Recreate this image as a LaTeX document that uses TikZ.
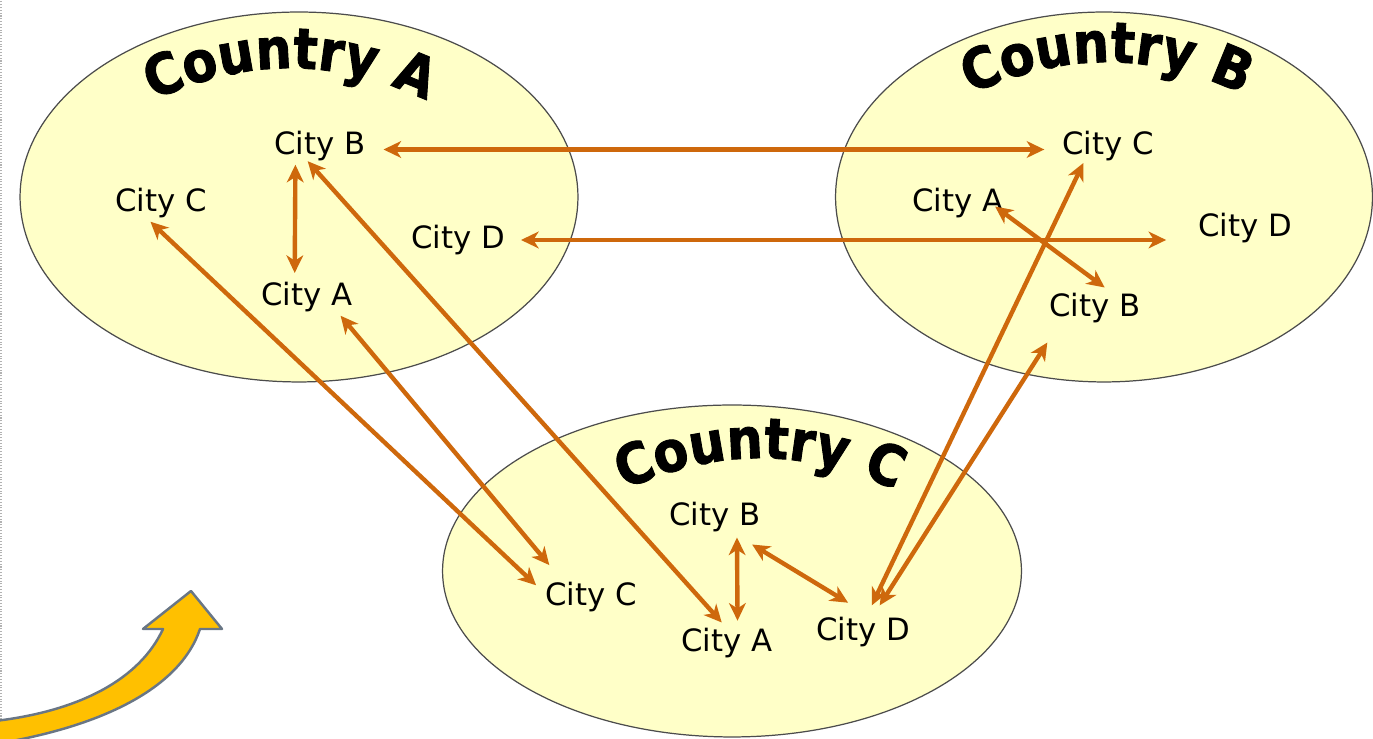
\documentclass[tikz,border=0pt]{standalone}
\usepackage{fontspec}
\setmainfont{DejaVu Sans}
\newfontfamily\countryfam[FakeBold=1.6]{DejaVu Sans Condensed Bold}
\usetikzlibrary{arrows.meta,shapes.geometric,decorations.text}

\definecolor{landfill}{RGB}{255,255,200}
\definecolor{routeorange}{RGB}{206,104,12}
\definecolor{boostgold}{RGB}{255,192,0}
\definecolor{boostedge}{RGB}{105,118,133}

\newcommand\countryfont{\countryfam\fontsize{32}{32}\selectfont}

\tikzset{
  country/.style={ellipse, draw=black!70, line width=0.7pt, fill=landfill, inner sep=0pt},
  countryname/.style={decorate, decoration={text along path, text align=center, text={|\countryfont|#1}}},
  city/.style={font=\fontsize{17.5}{20}\selectfont, inner sep=2pt},
  route/.style={draw=routeorange, line width=2.5pt, >={Stealth[length=10pt,width=9.5pt,inset=3pt]}, <->}
}

\begin{document}
\begin{tikzpicture}[x=0.02cm, y=0.02cm]
    \useasboundingbox (0,0) rectangle (1373,739);

    % page edge
    \draw[gray!60, densely dotted, line width=0.6pt] (1,0) -- (1,739);

    % draw countries
    \node[country, minimum width=11.16cm, minimum height=7.4cm] (ctyA) at (299,542) {};
    \node[country, minimum width=10.74cm, minimum height=7.4cm] (ctyB) at (1104,542) {};
    \node[country, minimum width=11.58cm, minimum height=6.64cm] (ctyC) at (732,168) {};

    % draw country names
    \path[countryname=Country A] (120,621) to[bend left=30] (460,621);
    \path[countryname=Country B] (937,627) to[bend left=30] (1277,627);
    \path[countryname=Country C] (590,231) to[bend left=30] (930,231);

    % draw cities
    \node[city] (aB) at (320,593) {City B};
    \node[city] (aC) at (161,536) {City C};
    \node[city] (aD) at (458,499) {City D};
    \node[city] (aA) at (307,442) {City A};

    \node[city] (bC) at (1108,593) {City C};
    \node[city] (bA) at (958,536) {City A};
    \node[city] (bD) at (1245,511) {City D};
    \node[city] (bB) at (1095,431) {City B};

    \node[city] (cB) at (715,222) {City B};
    \node[city] (cC) at (591,142) {City C};
    \node[city] (cA) at (727,96) {City A};
    \node[city] (cD) at (863,107) {City D};

    % draw routes
    \draw[route] ([shift={(8pt,-2pt)}]aB.east) -- ([shift={(-8pt,-2pt)}]bC.west);
    \draw[route] ([xshift=7pt]aD.east) -- ([xshift=-16pt]aD.east -| bD.west);
    \draw[route] ([xshift=-14pt]aB.south) -- ([shift={(-7pt,3pt)}]aA.north);
    \draw[route] ([xshift=-6pt]aC.south) -- ([shift={(-3pt,-4pt)}]cC.north west);
    \draw[route] ([xshift=-9pt]aA.south east) -- ([shift={(4.5pt,7.5pt)}]cC.north west);
    \draw[route] ([shift={(-7pt,2pt)}]aB.south) -- ([shift={(-3pt,1pt)}]cA.north);
    \draw[route] ([shift={(12.5pt,-1pt)}]cB.south) -- ([shift={(6pt,2pt)}]cA.north);
    \draw[route] ([shift={(-7pt,-5pt)}]cB.south east) -- ([shift={(-8.5pt,6pt)}]cD.north);
    \draw[route] ([shift={(5pt,4.5pt)}]cD.north) -- ([shift={(-14pt,1pt)}]bC.south);
    \draw[route] ([shift={(9.5pt,4.5pt)}]cD.north) -- ([shift={(1pt,-9pt)}]bB.south west);
    \draw[route] ([shift={(-7pt,-2pt)}]bA.east) -- ([shift={(5.5pt,1pt)}]bB.north);

    % growth arrow
    \draw[boostedge, fill=boostgold, line width=1.4pt, line join=round]
      (163,110) .. controls (140,60) and (80,28) .. (-5,18) -- (-5,-5)
      .. controls (100,12) and (180,50) .. (200,110) -- (222,110) -- (191,148) -- (143,110) -- cycle;
\end{tikzpicture}
\end{document}
